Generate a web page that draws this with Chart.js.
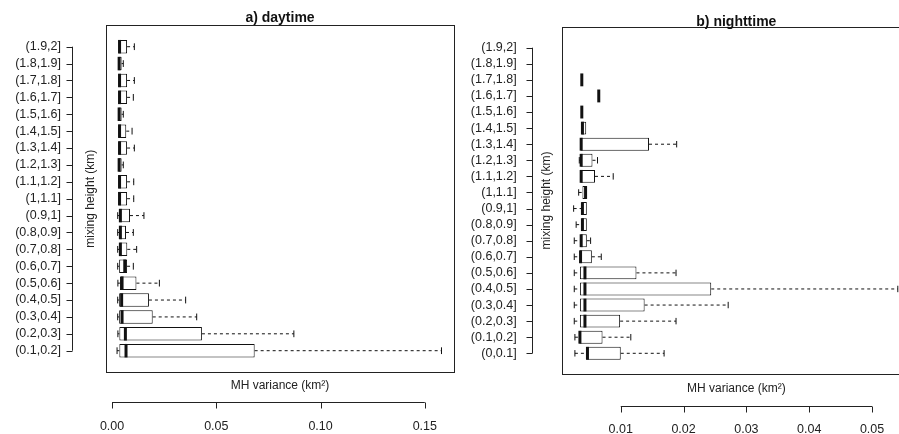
<!DOCTYPE html>
<html>
<head>
<meta charset="utf-8">
<script src="https://cdn.jsdelivr.net/npm/chart.js@4.4.1/dist/chart.umd.min.js"></script>
<style>
html, body { margin: 0; padding: 0; background: #fff; width: 899px; height: 434px; overflow: hidden; }
canvas { position: absolute; top: 0; }
#dayChart { left: 0; }
#nightChart { left: 460px; }
</style>
</head>
<body>
<canvas id="dayChart" width="460" height="434"></canvas>
<canvas id="nightChart" width="470" height="434"></canvas>
<script>
// a) daytime, categories from bottom to top
const dayCategories = ['(0.1,0.2]', '(0.2,0.3]', '(0.3,0.4]', '(0.4,0.5]', '(0.5,0.6]', '(0.6,0.7]', '(0.7,0.8]', '(0.8,0.9]', '(0.9,1]', '(1,1.1]',
    '(1.1,1.2]', '(1.2,1.3]', '(1.3,1.4]', '(1.4,1.5]', '(1.5,1.6]', '(1.6,1.7]', '(1.7,1.8]', '(1.8,1.9]', '(1.9,2]'];
const dayLow  = [0.0024, 0.0028, 0.0027, 0.0027, 0.0028, 0.0027, 0.0027, 0.0027, 0.0027, 0.0026, 0.0026, 0.0026, 0.0026, 0.0026, 0.0026, 0.0026, 0.0026, 0.0026, 0.0026];
const dayQ1   = [0.0035, 0.0035, 0.0034, 0.0034, 0.0038, 0.0034, 0.0035, 0.0035, 0.0035, 0.0030, 0.0030, 0.0030, 0.0030, 0.0030, 0.0030, 0.0030, 0.0030, 0.0030, 0.0030];
const dayMed  = [0.0067, 0.0064, 0.0048, 0.0046, 0.0048, 0.0061, 0.0040, 0.0040, 0.0040, 0.0036, 0.0036, 0.0034, 0.0036, 0.0036, 0.0034, 0.0036, 0.0036, 0.0034, 0.0036];
const dayQ3   = [0.0684, 0.0431, 0.0195, 0.0177, 0.0117, 0.0072, 0.0073, 0.0067, 0.0086, 0.0072, 0.0072, 0.0046, 0.0072, 0.0068, 0.0046, 0.0072, 0.0072, 0.0046, 0.0072];
const dayHigh = [0.1580, 0.0872, 0.0406, 0.0353, 0.0227, 0.0102, 0.0118, 0.0102, 0.0153, 0.0104, 0.0104, 0.0054, 0.0107, 0.0096, 0.0054, 0.0102, 0.0107, 0.0054, 0.0107];
const dayTicks = [0, 0.05, 0.10, 0.15];

// b) nighttime, categories from bottom to top (two top classes are empty)
const nightCategories = ['(0,0.1]', '(0.1,0.2]', '(0.2,0.3]', '(0.3,0.4]', '(0.4,0.5]', '(0.5,0.6]', '(0.6,0.7]', '(0.7,0.8]', '(0.8,0.9]', '(0.9,1]',
    '(1,1.1]', '(1.1,1.2]', '(1.2,1.3]', '(1.3,1.4]', '(1.4,1.5]', '(1.5,1.6]', '(1.6,1.7]', '(1.7,1.8]', '(1.8,1.9]', '(1.9,2]'];
const nightLow  = [0.0027, 0.0027, 0.0026, 0.0026, 0.0026, 0.0026, 0.0026, 0.0026, 0.0029, 0.0025, 0.0033, 0.0036, 0.0034, 0.0036, 0.0038, 0.0038, 0.0065, 0.0038, null, null];
const nightQ1   = [0.0045, 0.0034, 0.0035, 0.0035, 0.0035, 0.0035, 0.0035, 0.0036, 0.0038, 0.0038, 0.0039, 0.0036, 0.0036, 0.0036, 0.0038, 0.0038, 0.0065, 0.0038, null, null];
const nightMed  = [0.0047, 0.0035, 0.0043, 0.0043, 0.0043, 0.0043, 0.0036, 0.0037, 0.0039, 0.0039, 0.0044, 0.0037, 0.0037, 0.0037, 0.0039, 0.0038, 0.0065, 0.0038, null, null];
const nightQ3   = [0.0100, 0.0071, 0.0099, 0.0138, 0.0244, 0.0125, 0.0054, 0.0046, 0.0046, 0.0046, 0.0046, 0.0059, 0.0055, 0.0145, 0.0045, 0.0038, 0.0065, 0.0038, null, null];
const nightHigh = [0.0169, 0.0116, 0.0188, 0.0271, 0.0541, 0.0188, 0.0069, 0.0052, 0.0046, 0.0046, 0.0046, 0.0088, 0.0063, 0.0189, 0.0045, 0.0038, 0.0065, 0.0038, null, null];
const nightTicks = [0.01, 0.02, 0.03, 0.04, 0.05];

const FONT = 'Liberation Sans, Arial, sans-serif';

// draws frame, medians, whiskers, detached R-style axes and titles
const boxParts = {
    id: 'boxParts',
    afterDatasetsDraw(chart, args, opts) {
        const ctx = chart.ctx;
        const xs = chart.scales.x;
        const ys = chart.scales.y;
        const area = chart.chartArea;
        const n = chart.data.labels.length;
        const ext = 0.5 + 0.04 * n;
        const frameTop = ys.getPixelForValue(n - 1 + ext);
        const frameBottom = ys.getPixelForValue(-ext);
        const meta = chart.getDatasetMeta(0);

        ctx.save();
        // medians + whiskers
        for (let i = 0; i < n; i++) {
            if (opts.q1[i] == null) continue;
            const bar = meta.data[i];
            const yc = bar.y;
            const h = bar.height;
            const xq1 = xs.getPixelForValue(opts.q1[i]);
            const xq3 = xs.getPixelForValue(opts.q3[i]);
            const xlo = xs.getPixelForValue(opts.low[i]);
            const xhi = xs.getPixelForValue(opts.high[i]);
            const xmed = xs.getPixelForValue(opts.med[i]);

            ctx.strokeStyle = '#111';
            ctx.lineWidth = 1;
            ctx.setLineDash([3, 3]);
            ctx.beginPath();
            if (xhi - xq3 > 1) { ctx.moveTo(xq3, yc); ctx.lineTo(xhi, yc); }
            if (xq1 - xlo > 1) { ctx.moveTo(xlo, yc); ctx.lineTo(xq1, yc); }
            ctx.stroke();
            ctx.setLineDash([]);
            ctx.beginPath();
            if (xhi - xq3 > 1) { ctx.moveTo(xhi, yc - h / 4); ctx.lineTo(xhi, yc + h / 4); }
            if (xq1 - xlo > 1) { ctx.moveTo(xlo, yc - h / 4); ctx.lineTo(xlo, yc + h / 4); }
            ctx.stroke();

            ctx.lineWidth = 3;
            ctx.beginPath();
            ctx.moveTo(xmed, yc - h / 2);
            ctx.lineTo(xmed, yc + h / 2);
            ctx.stroke();
        }

        // frame
        ctx.strokeStyle = '#222';
        ctx.lineWidth = 1;
        ctx.strokeRect(Math.round(area.left) + 0.5, Math.round(frameTop) + 0.5,
            Math.round(area.right - area.left), Math.round(frameBottom - frameTop));

        // category axis (detached)
        const yTop = ys.getPixelForValue(n - 1);
        const yBot = ys.getPixelForValue(0);
        const ax = Math.round(area.left - opts.yAxisGap) + 0.5;
        ctx.beginPath();
        ctx.moveTo(ax, yTop);
        ctx.lineTo(ax, yBot);
        for (let i = 0; i < n; i++) {
            const y = Math.round(ys.getPixelForValue(i)) + 0.5;
            ctx.moveTo(ax, y);
            ctx.lineTo(ax - 6, y);
        }
        ctx.stroke();

        // value axis (detached)
        const ay = Math.round(frameBottom + opts.xAxisGap) + 0.5;
        const t0 = xs.getPixelForValue(opts.ticks[0]);
        const t1 = xs.getPixelForValue(opts.ticks[opts.ticks.length - 1]);
        ctx.beginPath();
        ctx.moveTo(t0, ay);
        ctx.lineTo(t1, ay);
        for (let v of opts.ticks) {
            const x = Math.round(xs.getPixelForValue(v)) + 0.5;
            ctx.moveTo(x, ay);
            ctx.lineTo(x, ay + 6);
        }
        ctx.stroke();

        // titles
        const cx = (area.left + area.right) / 2;
        ctx.fillStyle = '#111';
        ctx.textAlign = 'center';
        ctx.textBaseline = 'alphabetic';
        ctx.font = 'bold 14px ' + FONT;
        ctx.fillText(opts.title, cx, frameTop - opts.titleGap);
        ctx.fillStyle = '#222';
        ctx.font = '12px ' + FONT;
        ctx.textBaseline = 'middle';
        ctx.fillText('MH variance (km²)', cx, frameBottom + 14);
        ctx.translate(area.left - 15, (frameTop + frameBottom) / 2);
        ctx.rotate(-Math.PI / 2);
        ctx.fillText('mixing height (km)', 0, 0);
        ctx.restore();
    }
};

function noPadding(s) {
    s.paddingLeft = 0;
    s.paddingRight = 0;
    s.paddingTop = 0;
    s.paddingBottom = 0;
}

function makeBoxChart(id, labels, low, q1, med, q3, high, ticks, layout) {
    const el = document.getElementById(id);
    return new Chart(el, {
        type: 'bar',
        data: {
            labels: labels,
            datasets: [{
                data: labels.map((_, i) => q1[i] == null ? null : [q1[i], q3[i]]),
                backgroundColor: '#fff',
                borderColor: '#111',
                borderWidth: 1,
                borderSkipped: false,
                categoryPercentage: 1,
                barPercentage: 0.8,
                clip: false
            }]
        },
        options: {
            indexAxis: 'y',
            responsive: false,
            animation: false,
            layout: {
                padding: { left: 0, top: layout.top, right: el.width - layout.right, bottom: 0 }
            },
            plugins: {
                legend: { display: false },
                tooltip: { enabled: false },
                boxParts: {
                    low: low, q1: q1, med: med, q3: q3, high: high, ticks: ticks,
                    title: layout.title, titleGap: layout.titleGap,
                    yAxisGap: layout.yAxisGap, xAxisGap: layout.xAxisGap
                }
            },
            scales: {
                y: {
                    type: 'category',
                    reverse: true,
                    offset: false,
                    grid: { display: false, drawTicks: true, tickLength: layout.yLabelPad },
                    border: { display: false },
                    ticks: { autoSkip: false, padding: 0, color: '#222', font: { family: FONT, size: 12.5 } },
                    afterFit: function(s) { s.width = layout.left; noPadding(s); }
                },
                x: {
                    type: 'linear',
                    bounds: 'data',
                    min: layout.min,
                    max: layout.max,
                    grid: { display: false, drawTicks: true, tickLength: layout.xLabelPad },
                    border: { display: false },
                    ticks: {
                        autoSkip: false, maxRotation: 0, padding: 0, color: '#222',
                        font: { family: FONT, size: 12.5 },
                        callback: v => v.toFixed(2)
                    },
                    afterBuildTicks: function(s) { s.ticks = ticks.map(v => ({ value: v })); },
                    afterFit: function(s) { s.height = el.height - layout.bottom; noPadding(s); }
                }
            }
        },
        plugins: [boxParts]
    });
}

makeBoxChart('dayChart', dayCategories, dayLow, dayQ1, dayMed, dayQ3, dayHigh, dayTicks, {
    title: 'a) daytime', titleGap: 3, left: 106, right: 454, top: 46.7, bottom: 350.7,
    min: -0.0029, max: 0.164, yLabelPad: 45, xLabelPad: 68, yAxisGap: 34, xAxisGap: 30
});
makeBoxChart('nightChart', nightCategories, nightLow, nightQ1, nightMed, nightQ3, nightHigh, nightTicks, {
    title: 'b) nighttime', titleGap: 1, left: 101.7, right: 451, top: 47.7, bottom: 353.3,
    min: 0.0006, max: 0.0562, yLabelPad: 45, xLabelPad: 69, yAxisGap: 30, xAxisGap: 32
});
</script>
</body>
</html>
